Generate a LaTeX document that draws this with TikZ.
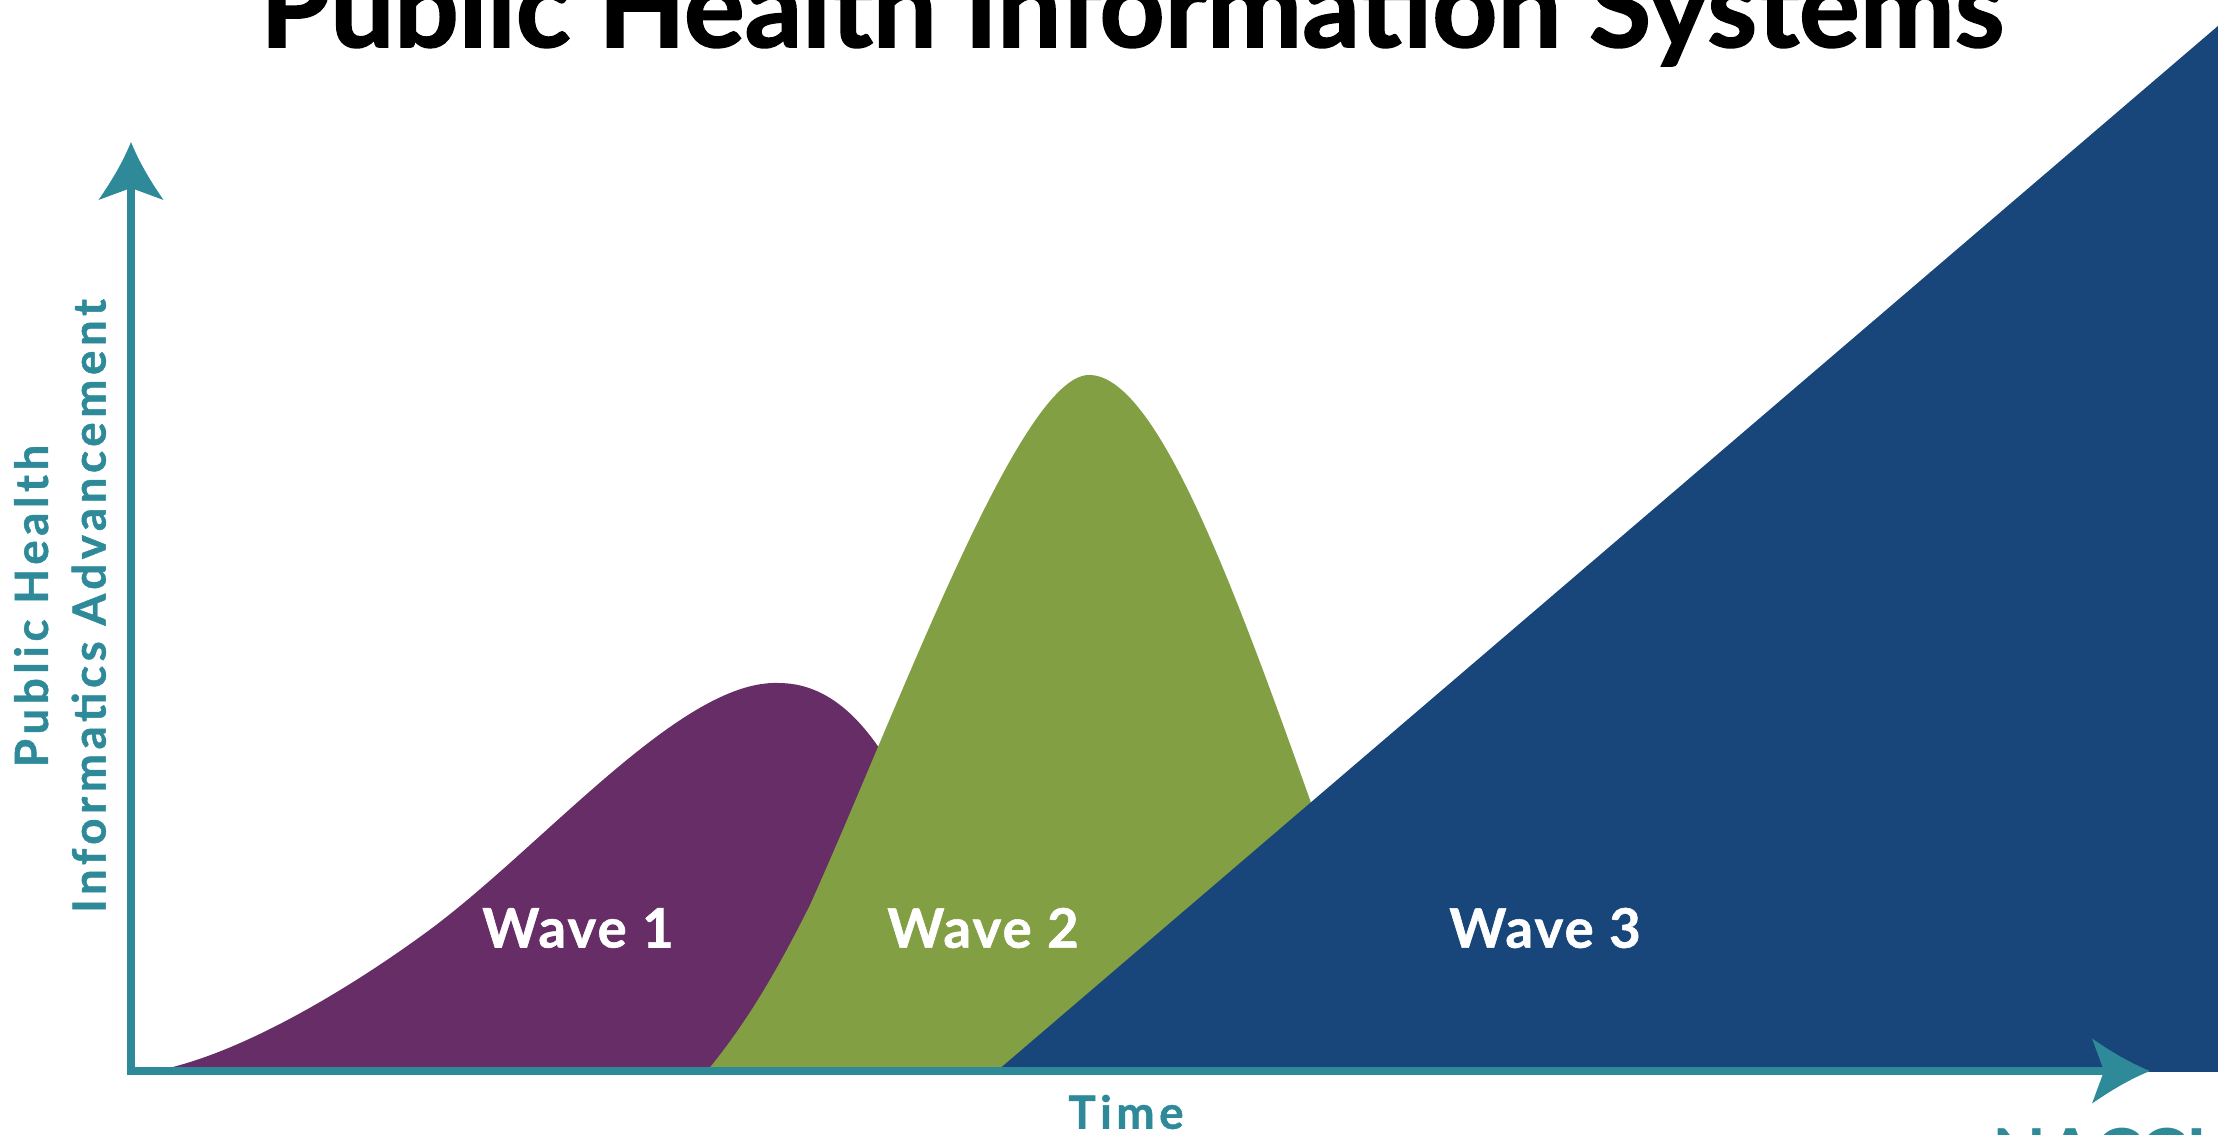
\documentclass[tikz,border=0pt]{standalone}
\usepackage{fontspec}
\setmainfont{Lato}
\usetikzlibrary{arrows.meta}

\definecolor{axisteal}{RGB}{46,138,153}
\definecolor{wavepurple}{RGB}{102,45,102}
\definecolor{wavegreen}{RGB}{130,160,67}
\definecolor{waveblue}{RGB}{24,70,122}

% arrow head with hollow curved flanks
\pgfdeclarearrow{
  name=AxisHead,
  setup code={
    \pgfarrowssettipend{0pt}
    \pgfarrowssetlineend{-4.2mm}
    \pgfarrowssetbackend{-5.8mm}
    \pgfarrowshullpoint{0pt}{0pt}
    \pgfarrowshullpoint{-5.8mm}{3.25mm}
    \pgfarrowshullpoint{-5.8mm}{-3.25mm}
  },
  drawing code={
    \pgfpathmoveto{\pgfpointorigin}
    \pgfpathcurveto{\pgfpoint{-2.0mm}{0.8mm}}{\pgfpoint{-4.0mm}{2.0mm}}{\pgfpoint{-5.8mm}{3.25mm}}
    \pgfpathlineto{\pgfpoint{-4.6mm}{0pt}}
    \pgfpathlineto{\pgfpoint{-5.8mm}{-3.25mm}}
    \pgfpathcurveto{\pgfpoint{-4.0mm}{-2.0mm}}{\pgfpoint{-2.0mm}{-0.8mm}}{\pgfpointorigin}
    \pgfpathclose
    \pgfusepathqfill
  }
}

\tikzset{
  >=AxisHead,
  axisline/.style={draw=axisteal,line width=2pt,line join=miter},
  axislabel/.style={text=axisteal,inner sep=0pt,align=center,
    font=\fontsize{13}{16.4}\selectfont\bfseries\addfontfeature{LetterSpace=10,FakeBold=1}},
  wavelabel/.style={text=white,inner sep=0pt,
    font=\fontsize{15.5}{18}\selectfont\bfseries\addfontfeature{LetterSpace=4,FakeBold=1}},
}

\begin{document}
\begin{tikzpicture}
                \useasboundingbox (0,0) rectangle (22.18,11.35);
                \clip (0,0) rectangle (22.18,11.35);

                % the three waves
                \fill[wavepurple] (1.55,0.64) .. controls (2.4,0.8) and (3.5,1.47) .. (4.24,2.01)
                    .. controls (5.4,2.85) and (6.8,4.55) .. (7.78,4.52)
                    .. controls (8.25,4.52) and (8.6,4.2) .. (8.9,3.7) -- (9.8,0.64) -- cycle;
                \fill[wavegreen] (7.07,0.64) .. controls (7.45,1.1) and (7.75,1.6) .. (8.1,2.3)
                    .. controls (9.0,4.3) and (10.2,7.6) .. (10.89,7.6)
                    .. controls (11.55,7.6) and (12.3,5.6) .. (13.1,3.35) -- (14.0,0.64) -- cycle;
                \fill[waveblue] (9.97,0.64) -- (22.6,11.45) -- (22.6,0.63) -- cycle;

                % axes
                \coordinate (origin) at (1.31,0.64);
                \coordinate (ytip) at (1.31,9.93);
                \coordinate (xtip) at (21.50,0.64);
                \path[axisline,<->] (ytip) -- (origin) -- (xtip);

                \node[font=\fontsize{32.3}{36}\selectfont\bfseries\addfontfeature{FakeBold=1.5},anchor=base] (title) at (11.32,10.88) {Public Health Information Systems};

                \node[axislabel,rotate=90] (ylabel) at (0.60,5.29) {Public Health\\Informatics Advancement};
                \node[axislabel] (xlabel) at (11.26,0.23) {Time};

                \node[wavelabel] (wave1) at (5.78,2.07) {Wave 1};
                \node[wavelabel] (wave2) at (9.83,2.07) {Wave 2};
                \node[wavelabel] (wave3) at (15.45,2.07) {Wave 3};

                \node[text=axisteal,inner sep=0pt,anchor=north west,font=\fontsize{20}{24}\selectfont\bfseries] (logo) at (19.92,0.08) {NACCHO};

            \end{tikzpicture}
\end{document}
